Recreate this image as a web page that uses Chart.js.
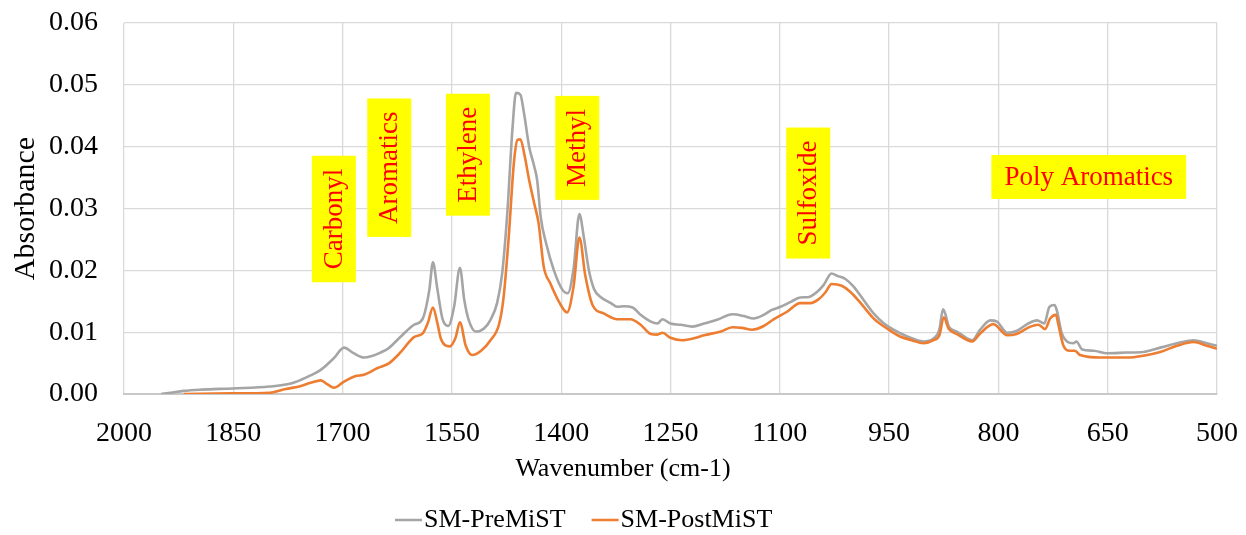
<!DOCTYPE html>
<html>
<head>
<meta charset="utf-8">
<script src="https://cdn.jsdelivr.net/npm/chart.js@4.4.1/dist/chart.umd.min.js"></script>
<style>
  html, body { margin: 0; padding: 0; background: #fff; }
  canvas { display: block; }
</style>
</head>
<body>
<canvas id="ftirChart" width="1246" height="535"></canvas>
<script>
// ===============================
// DATA – FTIR spectra
// ===============================
const xTicks = [2000, 1850, 1700, 1550, 1400, 1250, 1100, 950, 800, 650, 500];
const yTicks = [0, 0.01, 0.02, 0.03, 0.04, 0.05, 0.06];

const seriesNames = ['SM-PreMiST', 'SM-PostMiST'];

const preWn = [1949, 1936, 1918, 1894, 1851, 1800, 1771, 1757, 1744, 1730, 1712, 1698, 1685, 1671, 1661, 1648, 1637, 1620,
  1602, 1590, 1581, 1576, 1570, 1563, 1555, 1547, 1539, 1533, 1527, 1517, 1506, 1497, 1488, 1481, 1474, 1467, 1462, 1456,
  1451, 1444, 1437, 1433, 1428, 1421, 1410, 1398, 1391, 1383, 1375, 1369, 1362, 1355, 1346, 1332, 1323, 1314, 1302, 1291,
  1277, 1268, 1261, 1250, 1236, 1220, 1204, 1186, 1165, 1149, 1136, 1122, 1111, 1099, 1085, 1072, 1060, 1049, 1040, 1029,
  1021, 1010, 999, 985, 971, 957, 944, 925, 903, 889, 881, 876, 873, 868, 857, 843, 836, 825, 811, 802, 788, 775, 759, 747,
  737, 730, 723, 720, 713, 706, 697, 693, 685, 669, 651, 624, 601, 578, 555, 532, 514, 500];
const preAbs = [0, 0.0002, 0.0005, 0.0007, 0.0009, 0.0012, 0.0017, 0.0023, 0.003, 0.0039, 0.0058, 0.0075, 0.0066, 0.0059,
  0.0061, 0.0067, 0.0074, 0.0093, 0.0112, 0.0122, 0.0168, 0.0213, 0.017, 0.0122, 0.011, 0.0141, 0.0204, 0.0152, 0.012,
  0.0101, 0.0106, 0.012, 0.0147, 0.0195, 0.0292, 0.0427, 0.0487, 0.0484, 0.0454, 0.04, 0.0368, 0.0346, 0.0285, 0.0245,
  0.02, 0.0168, 0.0163, 0.0203, 0.0291, 0.0254, 0.02, 0.017, 0.0157, 0.0147, 0.0141, 0.0142, 0.014, 0.0128, 0.0117,
  0.0114, 0.0121, 0.0114, 0.0112, 0.0109, 0.0114, 0.012, 0.0129, 0.0126, 0.0122, 0.0128, 0.0136, 0.0141, 0.0149, 0.0156,
  0.0157, 0.0165, 0.0176, 0.0195, 0.0191, 0.0186, 0.0174, 0.0152, 0.013, 0.0114, 0.0104, 0.0093, 0.0085, 0.009, 0.0104,
  0.0137, 0.013, 0.0109, 0.0101, 0.009, 0.0087, 0.0104, 0.0119, 0.0117, 0.0099, 0.0102, 0.0114, 0.0119, 0.0114, 0.0141,
  0.0144, 0.0136, 0.0098, 0.0085, 0.0082, 0.0085, 0.0072, 0.007, 0.0066, 0.0067, 0.0068, 0.0075, 0.0082, 0.0087, 0.0082,
  0.0078];

const postWn = [1918, 1853, 1800, 1778, 1757, 1744, 1730, 1720, 1712, 1698, 1682, 1671, 1652, 1636, 1620, 1602, 1590, 1583,
  1576, 1570, 1565, 1553, 1545, 1539, 1531, 1522, 1510, 1497, 1485, 1479, 1472, 1465, 1460, 1456, 1450, 1444, 1437, 1431,
  1424, 1415, 1403, 1392, 1383, 1375, 1367, 1357, 1341, 1323, 1305, 1291, 1277, 1268, 1261, 1250, 1234, 1218, 1204, 1181,
  1165, 1152, 1138, 1122, 1108, 1090, 1072, 1058, 1047, 1037, 1029, 1015, 1003, 989, 971, 953, 935, 919, 903, 889, 881,
  875, 868, 857, 836, 825, 807, 788, 775, 756, 745, 736, 729, 721, 718, 711, 702, 695, 688, 660, 624, 601, 578, 555, 532,
  514, 500];
const postAbs = [0, 0.0001, 0.0002, 0.0008, 0.0013, 0.0018, 0.0022, 0.0015, 0.001, 0.002, 0.0029, 0.0031, 0.0042, 0.005,
  0.0068, 0.0092, 0.0098, 0.0115, 0.014, 0.0115, 0.0089, 0.0077, 0.0091, 0.0116, 0.0078, 0.0063, 0.007, 0.0087, 0.0114,
  0.0157, 0.0254, 0.0373, 0.0411, 0.0412, 0.0384, 0.0346, 0.0308, 0.0276, 0.0206, 0.0179, 0.0149, 0.0132, 0.0174, 0.0253,
  0.0192, 0.0144, 0.013, 0.0121, 0.0121, 0.0112, 0.0097, 0.0096, 0.0099, 0.0091, 0.0087, 0.009, 0.0095, 0.0101, 0.0108,
  0.0107, 0.0104, 0.011, 0.0121, 0.0133, 0.0147, 0.0147, 0.0153, 0.0165, 0.0178, 0.0175, 0.0165, 0.0147, 0.0122, 0.0106,
  0.0093, 0.0087, 0.0082, 0.0087, 0.0095, 0.0124, 0.0105, 0.0097, 0.0085, 0.0098, 0.0113, 0.0095, 0.0097, 0.0109, 0.0112,
  0.0105, 0.0122, 0.0128, 0.0114, 0.0079, 0.007, 0.007, 0.0063, 0.0059, 0.0059, 0.0062, 0.0068, 0.0078, 0.0084, 0.0078,
  0.0073];

// band labels (centre of each yellow box, in wavenumber / absorbance)
const noteText = ['Carbonyl', 'Aromatics', 'Ethylene', 'Methyl', 'Sulfoxide', 'Poly Aromatics'];
const noteWn = [1712, 1636, 1528, 1378, 1061, 676];
const noteAbs = [0.0283, 0.0366, 0.0387, 0.0398, 0.0325, 0.0351];
const noteVertical = [true, true, true, true, true, false];

// ===============================
// STYLE
// ===============================
const FONT = "'Liberation Serif', 'Times New Roman', serif";
const colors = ['#A5A5A5', '#ED7D31'];

const toPoints = (xs, ys) => xs.map((v, i) => ({ x: v, y: ys[i] }));

// yellow boxes with red text
const bandLabels = {
  id: 'bandLabels',
  afterDatasetsDraw(chart) {
    const { ctx, scales: { x, y } } = chart;
    ctx.save();
    ctx.font = `27px ${FONT}`;
    noteText.forEach((text, i) => {
      const cx = x.getPixelForValue(noteWn[i]);
      const cy = y.getPixelForValue(noteAbs[i]);
      const len = ctx.measureText(text).width + 26;
      const thick = 44;
      ctx.save();
      ctx.translate(cx, cy);
      if (noteVertical[i]) ctx.rotate(-Math.PI / 2);
      ctx.fillStyle = '#FFFF00';
      ctx.fillRect(-len / 2, -thick / 2, len, thick);
      ctx.fillStyle = '#FF0000';
      ctx.textAlign = 'center';
      ctx.textBaseline = 'middle';
      ctx.fillText(text, 0, 1);
      ctx.restore();
    });
    ctx.restore();
  }
};

// x title centred on the whole figure + line legend at the bottom
const titleAndLegend = {
  id: 'titleAndLegend',
  afterDraw(chart) {
    const { ctx } = chart;
    ctx.save();
    ctx.fillStyle = '#000';
    ctx.textBaseline = 'middle';
    ctx.font = `26px ${FONT}`;
    ctx.textAlign = 'center';
    ctx.fillText('Wavenumber (cm-1)', 623, 469);

    ctx.textAlign = 'left';
    let lx = 395;
    const ly = 520;
    chart.data.datasets.forEach((ds) => {
      ctx.strokeStyle = ds.borderColor;
      ctx.lineWidth = 2.5;
      ctx.beginPath();
      ctx.moveTo(lx, ly);
      ctx.lineTo(lx + 27, ly);
      ctx.stroke();
      ctx.fillText(ds.label, lx + 29, ly);
      lx += 29 + ctx.measureText(ds.label).width + 26;
    });
    ctx.restore();
  }
};

// ===============================
// CHART
// ===============================
const ctx = document.getElementById('ftirChart').getContext('2d');
const ftirChart = new Chart(ctx, {
  type: 'line',
  data: {
    datasets: [
      {
        label: seriesNames[0],
        data: toPoints(preWn, preAbs),
        borderColor: colors[0],
        borderWidth: 2.6,
        pointRadius: 0,
        cubicInterpolationMode: 'monotone',
        order: 2,
      },
      {
        label: seriesNames[1],
        data: toPoints(postWn, postAbs),
        borderColor: colors[1],
        borderWidth: 2.6,
        pointRadius: 0,
        cubicInterpolationMode: 'monotone',
        order: 1,
      },
    ]
  },
  options: {
    responsive: false,
    animation: false,
    devicePixelRatio: 1,
    layout: { padding: { top: 23, right: 29, bottom: 0, left: 0 } },
    plugins: {
      legend: { display: false },
      tooltip: { enabled: false },
    },
    scales: {
      x: {
        type: 'linear',
        reverse: true,
        min: 500,
        max: 2000,
        afterBuildTicks: (scale) => { scale.ticks = xTicks.map(v => ({ value: v })); },
        afterFit: (scale) => {
          scale.height = 141;
          scale.paddingLeft = 0;
          scale.paddingRight = 0;
        },
        grid: { color: '#d9d9d9', lineWidth: 1.3, drawTicks: false },
        border: { display: true, color: '#c8c8c8', width: 2 },
        ticks: {
          color: '#000',
          font: { family: FONT, size: 28 },
          padding: 23,
          maxRotation: 0,
          autoSkip: false,
          callback: (value) => `${value}`,
        },
      },
      y: {
        min: 0,
        max: 0.06,
        afterBuildTicks: (scale) => { scale.ticks = yTicks.map(v => ({ value: v })); },
        afterFit: (scale) => {
          scale.width = 124;
          scale.paddingTop = 0;
          scale.paddingBottom = 0;
        },
        grid: { color: '#d9d9d9', lineWidth: 1.3, drawTicks: false },
        border: { display: false },
        ticks: {
          color: '#000',
          font: { family: FONT, size: 28 },
          padding: 26,
          callback: (value) => Number(value).toFixed(2),
        },
        title: {
          display: true,
          text: 'Absorbance',
          color: '#000',
          font: { family: FONT, size: 30 },
          padding: { top: 8, bottom: 0 },
        },
      },
    },
  },
  plugins: [bandLabels, titleAndLegend],
});
</script>
</body>
</html>
